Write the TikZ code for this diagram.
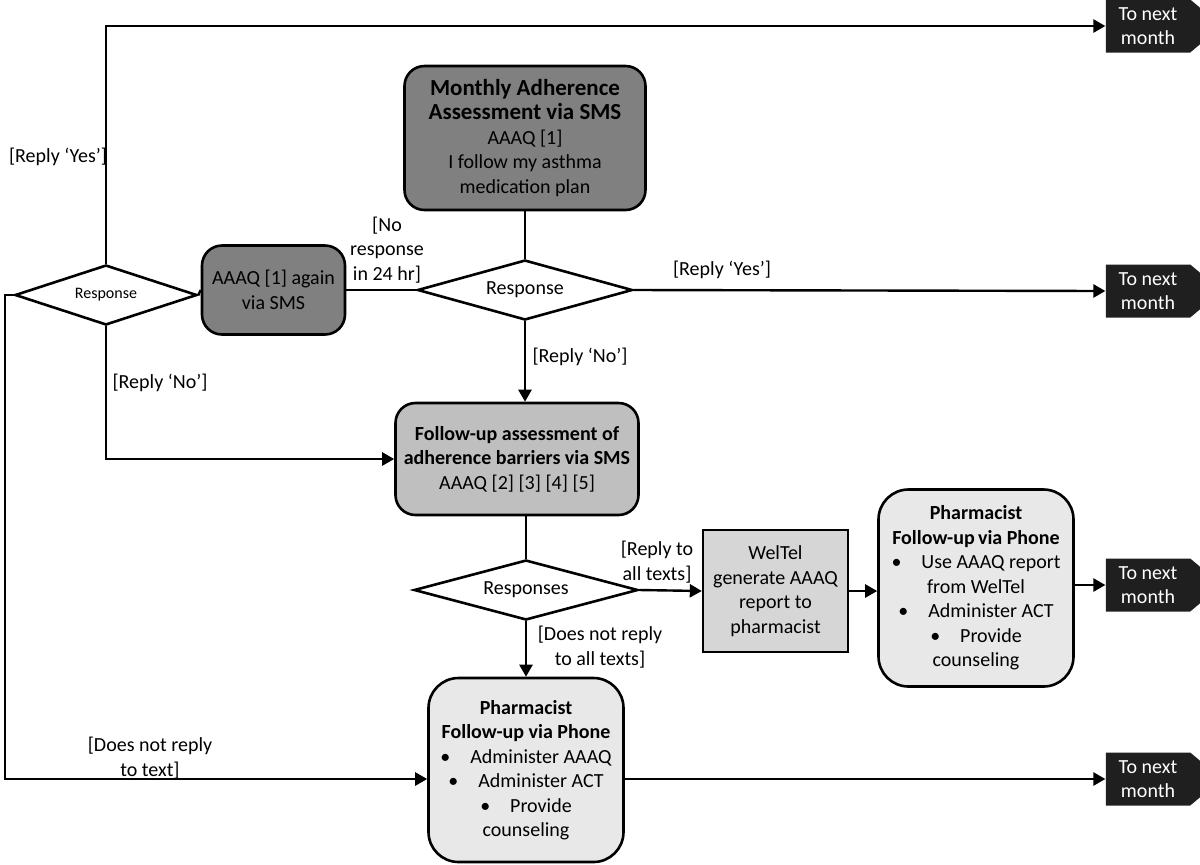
\documentclass[tikz,border=0pt]{standalone}
\usepackage{fontspec}
\setmainfont{Carlito}
\usetikzlibrary{shapes.geometric,shapes.symbols,arrows.meta}

\newcommand{\titlebf}[1]{{\fontsize{11.5}{12.25}\selectfont\bfseries #1}}

\begin{document}
\begin{tikzpicture}[
      x=0.5pt, y=-0.5pt,
      every node/.style={font=\fontsize{10}{12.25}\selectfont, align=center},
      box/.style={draw, line width=1.3pt, rounded corners=10pt, inner sep=2pt},
      darkbox/.style={box, fill=black!50},
      midbox/.style={box, fill=black!25},
      lightbox/.style={box, fill=black!9},
      decision/.style={diamond, aspect=3.5, draw, line width=1.3pt, fill=white, inner sep=0pt},
      nextmonth/.style={signal, signal to=east, signal pointer angle=80, fill=black!88,
          text=white, minimum width=58pt, minimum height=26.5pt, inner sep=1pt},
      link/.style={line width=1.2pt},
      arrow/.style={link, -{Triangle[length=6pt,width=6.5pt]}},
      lbl/.style={inner sep=0pt}
    ]
      \useasboundingbox (0,0) rectangle (1200,864);

      \node[darkbox, minimum width=120.5pt, minimum height=72pt] (monthly) at (525,138)
          {\titlebf{Monthly Adherence}\\\titlebf{Assessment via SMS}\\AAAQ [1]\\I follow my asthma\\medication plan};
      \node[decision, minimum width=107.5pt, minimum height=30pt] (resp) at (525,290) {Response};
      \node[darkbox, minimum width=71.5pt, minimum height=44.5pt] (again) at (273.5,290) {AAAQ [1] again\\via SMS};
      \node[decision, minimum width=91pt, minimum height=30pt, font=\fontsize{8}{9}\selectfont] (respL) at (106,295) {Response};

      \node[midbox, minimum width=121.5pt, minimum height=56pt] (followup) at (517,459)
          {\textbf{Follow-up assessment of}\\\textbf{adherence barriers via SMS}\\AAAQ [2] [3] [4] [5]};
      \node[decision, minimum width=112pt, minimum height=30pt] (responses) at (526,590) {Responses};
      \node[draw, line width=1.2pt, fill=black!16, minimum width=72.5pt, minimum height=61pt] (weltel) at (775.5,591)
          {WelTel\\generate AAAQ\\report to\\pharmacist};
      \node[lightbox, rounded corners=15pt, minimum width=97.5pt, minimum height=98.5pt] (pharmR) at (976,588)
          {\textbf{Pharmacist}\\\textbf{Follow-up\,via Phone}\\\textbullet\hspace{1em}Use AAAQ report\\from WelTel\\\textbullet\hspace{1em}Administer ACT\\\textbullet\hspace{1em}Provide\\counseling};
      \node[lightbox, rounded corners=15pt, minimum width=97.5pt, minimum height=92pt] (pharmB) at (526,770)
          {\textbf{Pharmacist}\\\textbf{Follow-up via Phone}\\\textbullet\hspace{1em}Administer AAAQ\\\textbullet\hspace{1em}Administer ACT\\\textbullet\hspace{1em}Provide\\counseling};

      \node[nextmonth] (next1) at (1148,26) {To next\\month};
      \node[nextmonth] (next2) at (1148,291) {To next\\month};
      \node[nextmonth] (next3) at (1148,585) {To next\\month};
      \node[nextmonth] (next4) at (1148,779) {To next\\month};

      \coordinate (leftrail) at (5,779);

      \draw[arrow] (respL.north) |- (next1.west);
      \draw[arrow] (respL.south) |- (followup.west);
      \draw[arrow] (respL.west) -| (leftrail) -- (leftrail -| pharmB.west);
      \draw[link] (respL.east) -- (again.west);
      \draw[link] (again.east) -- (resp.west);
      \draw[link] (monthly.south) -- (resp.north);
      \draw[arrow] (resp.east) -- (next2.west);
      \draw[arrow] (resp.south) -- (resp.south |- followup.north);
      \draw[link] (followup.south -| responses.north) -- (responses.north);
      \draw[arrow] (responses.east) -- (weltel.west);
      \draw[arrow] (responses.south) -- (pharmB.north);
      \draw[arrow] (weltel.east) -- (weltel.east -| pharmR.west);
      \draw[arrow] (next3.west -| pharmR.east) -- (next3.west);
      \draw[arrow] (next4.west -| pharmB.east) -- (next4.west);

      \node[lbl] (yesL) at (58,157) {[Reply ‘Yes’]};
      \node[lbl] (noL) at (160,383) {[Reply ‘No’]};
      \node[lbl] (notextL) at (150,758) {[Does not reply\\to text]};
      \node[lbl] (noresp) at (387,250) {[No\\response\\in 24 hr]};
      \node[lbl] (yesM) at (722,270) {[Reply ‘Yes’]};
      \node[lbl] (noM) at (580,357) {[Reply ‘No’]};
      \node[lbl] (alltexts) at (657,562) {[Reply to\\all texts]};
      \node[lbl] (notall) at (600,647) {[Does not reply\\to all texts]};

\end{tikzpicture}
\end{document}
